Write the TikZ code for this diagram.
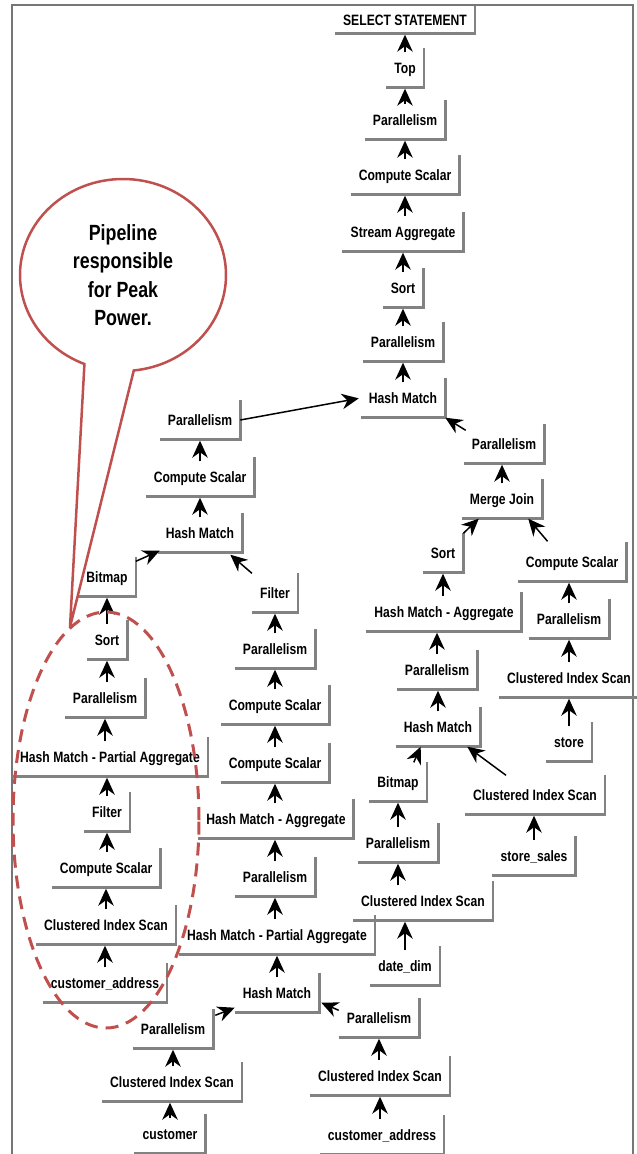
\documentclass[tikz,border=0pt]{standalone}
\usepackage{fontspec}
\newfontfamily\narrowfont{Liberation Sans}[FakeStretch=0.81]
\usetikzlibrary{arrows.meta,calc,shapes.callouts}
\definecolor{edgegray}{RGB}{130,130,130}
\definecolor{framegray}{RGB}{118,118,118}
\definecolor{calloutred}{RGB}{192,80,77}
\tikzset{
  op/.style={font=\narrowfont\bfseries\fontsize{15pt}{18pt}\selectfont,
    inner xsep=8pt, inner ysep=0pt, minimum height=39pt,
    text height=11pt, text depth=0pt},
  boxedge/.style={draw=edgegray, line width=2.5pt},
  tipshape/.style={-{Stealth[length=17pt,width=15.5pt,inset=5.5pt]}},
  flow/.style={tipshape, line width=1.5pt, shorten <=-4pt, shorten >=1pt},
  diagflow/.style={tipshape, line width=1.5pt},
}
\begin{document}
\begin{tikzpicture}[x=1pt,y=-1pt]
\useasboundingbox (0,0) rectangle (637,1154);

% outer frame (open at the bottom)
\draw[framegray, line width=2.5pt] (12,1160) -- (12,5) -- (633,5) -- (633,1160);

% ---- main spine ----
\node[op, minimum height=27pt] (ss) at (405,20) {SELECT STATEMENT};
\node[op] (top)   at (405,68)  {Top};
\node[op] (p1)    at (405,120) {Parallelism};
\node[op] (cs1)   at (405,175) {Compute Scalar};
\node[op] (sa)    at (403,232) {Stream Aggregate};
\node[op] (so1)   at (403,288) {Sort};
\node[op] (p2)    at (403,342) {Parallelism};
\node[op] (hm1)   at (403,398) {Hash Match};

% ---- right branch ----
\node[op] (p3)    at (504,444) {Parallelism};
\node[op] (mj)    at (502,499) {Merge Join};
\node[op] (so2)   at (443,553) {Sort};
\node[op] (cs2)   at (572,562) {Compute Scalar};
\node[op] (hma1)  at (444,612) {Hash Match - Aggregate};
\node[op] (p4)    at (569,619) {Parallelism};
\node[op] (p5)    at (437,670) {Parallelism};
\node[op] (cis1)  at (569,678) {Clustered Index Scan};
\node[op] (hm2)   at (438,727) {Hash Match};
\node[op] (store) at (569,742) {store};
\node[op] (bm1)   at (398,782) {Bitmap};
\node[op] (cis2)  at (535,795) {Clustered Index Scan};
\node[op] (p6)    at (398,843) {Parallelism};
\node[op] (ssal)  at (534,856) {store\_sales};
\node[op] (cis3)  at (423,901) {Clustered Index Scan};
\node[op] (dd)    at (405,966) {date\_dim};

% ---- middle branch ----
\node[op] (p7)    at (200,420) {Parallelism};
\node[op] (cs3)   at (200,477) {Compute Scalar};
\node[op] (hm3)   at (200,533) {Hash Match};
\node[op] (bm2)   at (107,577) {Bitmap};
\node[op] (fi1)   at (275,593) {Filter};
\node[op] (p8)    at (275,649) {Parallelism};
\node[op] (cs4)   at (275,705) {Compute Scalar};
\node[op] (cs5)   at (275,763) {Compute Scalar};
\node[op] (hma2)  at (276,819) {Hash Match - Aggregate};
\node[op] (p9)    at (275,877) {Parallelism};
\node[op] (hmpa1) at (277,935) {Hash Match - Partial Aggregate};
\node[op] (hm4)   at (277,993) {Hash Match};
\node[op] (p10)   at (173,1029) {Parallelism};
\node[op] (cis4)  at (172,1082) {Clustered Index Scan};
\node[op] (cust)  at (170,1134) {customer};
\node[op] (p11)   at (379,1018) {Parallelism};
\node[op] (cis5)  at (380,1076) {Clustered Index Scan};
\node[op] (ca1)   at (382,1135) {customer\_address};

% ---- left pipeline ----
\node[op] (so3)   at (107,640) {Sort};
\node[op] (p12)   at (105,698) {Parallelism};
\node[op] (hmpa2) at (110,757) {Hash Match - Partial Aggregate};
\node[op] (fi2)   at (107,812) {Filter};
\node[op] (cs6)   at (106,868) {Compute Scalar};
\node[op] (cis6)  at (106,925) {Clustered Index Scan};
\node[op] (ca2)   at (105,983) {customer\_address};

% raised edges (bottom and right) of every operator box
\foreach \n in {ss,top,p1,cs1,sa,so1,p2,hm1,p3,mj,so2,cs2,hma1,p4,p5,cis1,hm2,
  store,bm1,cis2,p6,ssal,cis3,dd,p7,cs3,hm3,bm2,fi1,p8,cs4,cs5,hma2,p9,hmpa1,
  hm4,p10,cis4,cust,p11,cis5,ca1,so3,p12,hmpa2,fi2,cs6,cis6,ca2}
  \draw[boxedge] (\n.south west) -- (\n.south east) -- (\n.north east);

% vertical data flow: child / parent / node giving the x position
\foreach \c/\p/\x in {top/ss/top, p1/top/top, cs1/p1/p1, sa/cs1/cs1, so1/sa/so1,
  p2/so1/so1, hm1/p2/p2, mj/p3/mj, hma1/so2/so2, p5/hma1/p5, hm2/p5/hm2,
  p4/cs2/p4, cis1/p4/p4, store/cis1/store, p6/bm1/bm1, cis3/p6/p6, dd/cis3/dd,
  ssal/cis2/ssal, cs3/p7/p7, hm3/cs3/hm3, p8/fi1/fi1, cs4/p8/p8, cs5/cs4/cs4,
  hma2/cs5/cs5, p9/hma2/p9, hmpa1/p9/p9, hm4/hmpa1/hm4, cis4/p10/p10,
  cust/cis4/cust, cis5/p11/p11, ca1/cis5/cis5, so3/bm2/so3, p12/so3/so3,
  hmpa2/p12/p12, fi2/hmpa2/fi2, cs6/fi2/fi2, cis6/cs6/cs6, ca2/cis6/ca2}
  \draw[flow] (\x.center |- \c.north) -- (\x.center |- \p.south);

% slanted data flow
\draw[diagflow, shorten >=2pt] (p7.east) -- (hm1.west);
\draw[diagflow] ($(p3.north west)+(2,6)$) -- (hm1.south east);
\draw[diagflow] (so2.north east) -- ($(mj.south west)+(17,0)$);
\draw[diagflow] ($(cs2.north west)+(30,-1)$) -- ($(mj.south east)+(-14,0)$);
\draw[diagflow] ($(bm1.north east)+(-13,0)$) -- ($(hm2.south west)+(25,0)$);
\draw[diagflow] ($(cis2.north west)+(41,0)$) -- ($(hm2.south east)+(-13,0)$);
\draw[diagflow] ($(bm2.north east)+(0,4)$) -- ($(hm3.south west)+(2,-2)$);
\draw[diagflow] (fi1.north west) -- ($(hm3.south east)+(-12,2)$);
\draw[diagflow] ($(p10.north east)+(2,6)$) -- ($(hm4.south west)+(0,-5)$);
\draw[diagflow] ($(p11.north west)+(0,12)$) -- ($(hm4.south east)+(2,-10)$);

% annotation
\node[ellipse callout, draw=calloutred, line width=2.5pt, fill=white,
  minimum width=206pt, minimum height=192pt, inner sep=0pt,
  callout absolute pointer={(70,627)}, callout pointer arc=28,
  align=center, font=\narrowfont\bfseries\fontsize{22pt}{28.3pt}\selectfont]
  (note) at (123,275) {Pipeline\\responsible\\for Peak\\Power.};

\draw[calloutred, line width=3pt, dash pattern=on 13pt off 8pt]
  (106,820) ellipse [x radius=93pt, y radius=208pt];
\end{tikzpicture}
\end{document}
